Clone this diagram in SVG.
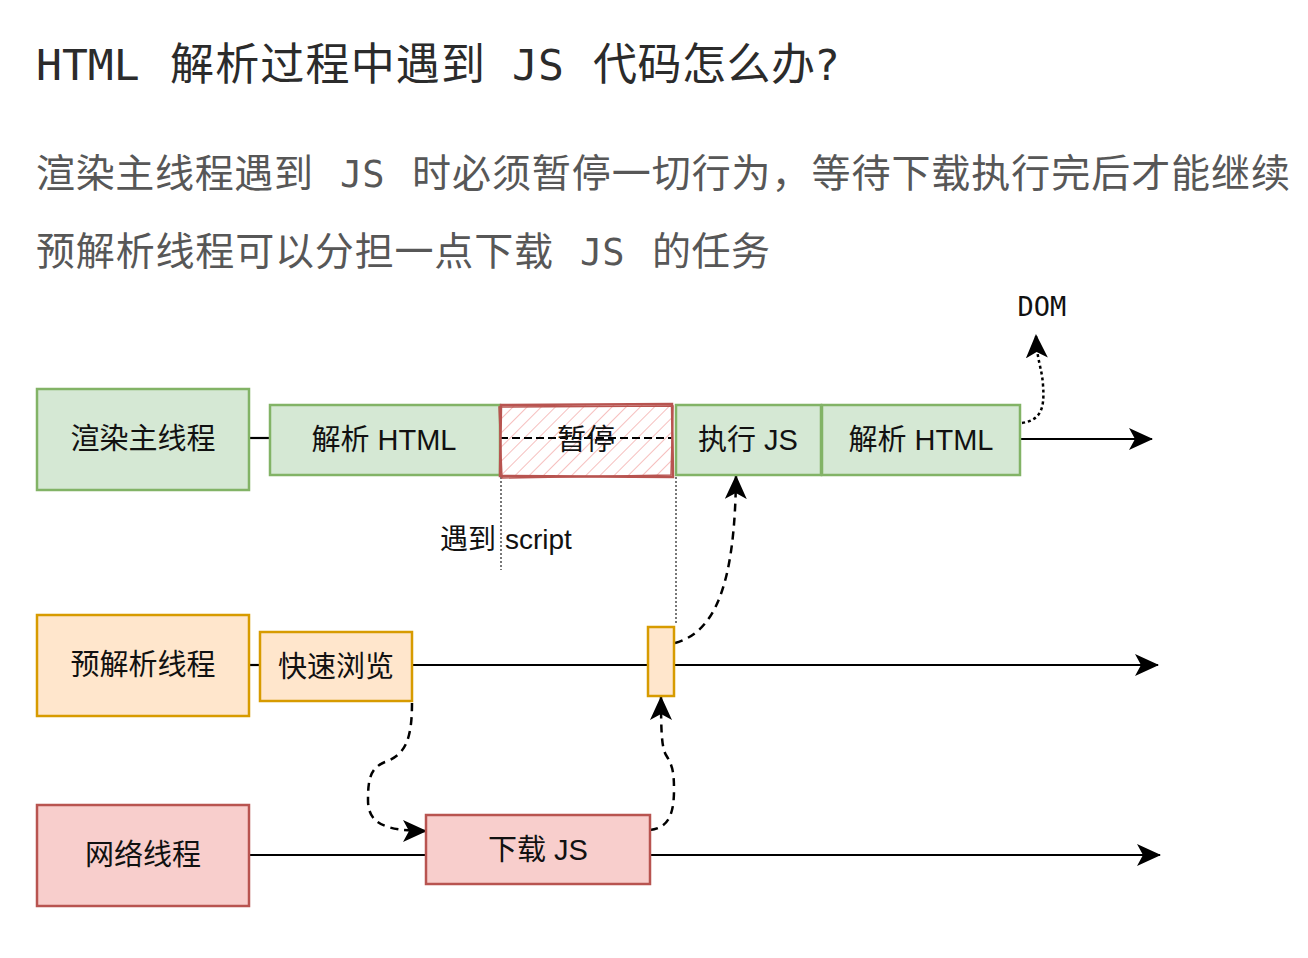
<svg xmlns="http://www.w3.org/2000/svg" width="1308" height="958" viewBox="0 0 1308 958">
<style>
.title{font-family:"DejaVu Sans Mono","Noto Sans CJK SC",monospace;font-size:43px;fill:#2b2b2b}
.tcjk{font-family:"Noto Sans CJK SC",sans-serif;font-size:44px;fill:#2b2b2b}
.sub{font-family:"Noto Sans CJK SC",sans-serif;font-size:39px;fill:#575757}
.sublat{font-family:"DejaVu Sans Mono",monospace;font-size:37px;fill:#575757}
.lbl{font-family:"Liberation Sans","Noto Sans CJK SC",sans-serif;font-size:29px;fill:#111;text-anchor:middle;dominant-baseline:central}
.green{fill:#d5e8d4;stroke:#82b366;stroke-width:2.5}
.orange{fill:#ffe6cc;stroke:#d79b00;stroke-width:2.5}
.red{fill:#f8cecc;stroke:#b85450;stroke-width:2.5}
.line{stroke:#000;stroke-width:2.2;fill:none}
.dash{stroke:#000;stroke-width:2.5;fill:none;stroke-dasharray:8 6}
.dot{stroke:#000;stroke-width:2.5;fill:none;stroke-dasharray:3 3}
.vdot{stroke:#777;stroke-width:2;fill:none;stroke-dasharray:2 2}
.note{font-family:"Liberation Sans","Noto Sans CJK SC",sans-serif;font-size:28px;fill:#111}
</style>
<defs>
<marker id="arr" markerUnits="userSpaceOnUse" viewBox="0 0 24 22" markerWidth="24" markerHeight="22" refX="23" refY="11" orient="auto">
<path d="M0,0 L24,11 L0,22 L6,11 Z" fill="#000"/>
</marker>
<pattern id="hatch" patternUnits="userSpaceOnUse" width="10" height="10" patternTransform="rotate(45)">
<line x1="0" y1="0" x2="0" y2="10" stroke="#f3aaa8" stroke-width="1.5"/>
</pattern>
</defs>
<rect width="1308" height="958" fill="#fff"/>

<g id="title">
<text class="title" x="36" y="80">HTML</text>
<text class="tcjk" x="170" y="80" textLength="315">解析过程中遇到</text>
<text class="title" x="512" y="80">JS</text>
<text class="tcjk" x="593" y="80" textLength="222">代码怎么办</text>
<text class="title" x="814" y="80">?</text>
</g>
<g id="subtitle">
<text class="sub" x="36" y="187" textLength="277">渲染主线程遇到</text>
<text class="sublat" x="340" y="187">JS</text>
<text class="sub" x="412" y="187" textLength="878">时必须暂停一切行为，等待下载执行完后才能继续</text>
<text class="sub" x="36" y="265" textLength="517">预解析线程可以分担一点下载</text>
<text class="sublat" x="580" y="265">JS</text>
<text class="sub" x="652" y="265" textLength="118">的任务</text>
</g>

<g id="connectors">
<line class="line" x1="249" y1="438" x2="270" y2="438"/>
<line class="line" x1="1020" y1="439" x2="1152" y2="439" marker-end="url(#arr)"/>
<path class="dot" d="M1022,423 C1040,420 1045,410 1043,385 C1042,368 1037,362 1036,335" marker-end="url(#arr)"/>
<line class="vdot" x1="501" y1="477" x2="501" y2="570"/>
<line class="vdot" x1="676" y1="477" x2="676" y2="625"/>
<line class="line" x1="249" y1="665" x2="260" y2="665"/>
<line class="line" x1="412" y1="665" x2="1158" y2="665" marker-end="url(#arr)"/>
<path class="dash" d="M675,643 C715,632 735,585 736,476" marker-end="url(#arr)"/>
<path class="dash" d="M412,703 C412,740 405,755 385,762 C370,768 368,780 368,800 C368,822 382,831 426,831" marker-end="url(#arr)"/>
<path class="dash" d="M650,830 C668,828 674,815 674,790 C674,770 672,765 666,755 C662,748 661,735 661,697" marker-end="url(#arr)"/>
<line class="line" x1="249" y1="855" x2="426" y2="855"/>
<line class="line" x1="650" y1="855" x2="1160" y2="855" marker-end="url(#arr)"/>
</g>

<g id="main-thread">
<rect class="green" x="37" y="389" width="212" height="101"/>
<text class="lbl" x="143" y="439">渲染主线程</text>
</g>
<g id="parse-html-1">
<rect class="green" x="270" y="405" width="230" height="70"/>
<text class="lbl" x="384" y="440">解析 HTML</text>
</g>
<g id="pause">
<rect x="500" y="405" width="173" height="72" fill="#fff"/>
<rect x="500" y="405" width="173" height="72" fill="url(#hatch)"/>
<line x1="500" y1="438" x2="673" y2="438" stroke="#000" stroke-width="2" stroke-dasharray="8 4"/>
<path d="M501,405 L672,404 L673,477 L500,476 Z" fill="none" stroke="#b85450" stroke-width="2.5"/>
<path d="M499,407 L673,406 L671,475 L502,478 Z" fill="none" stroke="#b85450" stroke-width="1.5"/>
<text class="lbl" x="586" y="440">暂停</text>
</g>
<g id="exec-js">
<rect class="green" x="676" y="405" width="145" height="70"/>
<text class="lbl" x="748" y="440">执行 JS</text>
</g>
<g id="parse-html-2">
<rect class="green" x="822" y="405" width="198" height="70"/>
<text class="lbl" x="921" y="440">解析 HTML</text>
</g>
<g id="dom">
<text x="1042" y="316" font-family="DejaVu Sans Mono,monospace" font-size="27" fill="#111" text-anchor="middle">DOM</text>
</g>
<g id="script-label">
<text class="note" x="440" y="549">遇到</text>
<text class="note" x="505" y="549">script</text>
</g>

<g id="preparse-thread">
<rect class="orange" x="37" y="615" width="212" height="101"/>
<text class="lbl" x="143" y="665">预解析线程</text>
</g>
<g id="quick-scan">
<rect class="orange" x="260" y="632" width="152" height="69"/>
<text class="lbl" x="336" y="667">快速浏览</text>
</g>
<g id="small-box">
<rect class="orange" x="648" y="627" width="26" height="69"/>
</g>

<g id="network-thread">
<rect class="red" x="37" y="805" width="212" height="101"/>
<text class="lbl" x="143" y="855">网络线程</text>
</g>
<g id="download-js">
<rect class="red" x="426" y="815" width="224" height="69"/>
<text class="lbl" x="538" y="850">下载 JS</text>
</g>
</svg>
